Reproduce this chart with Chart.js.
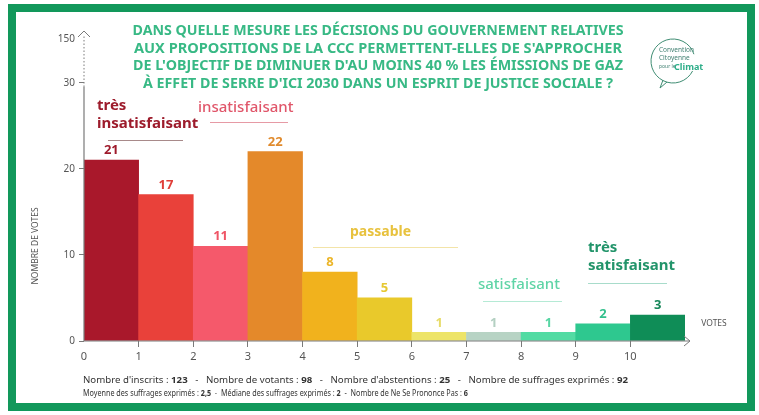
<!DOCTYPE html>
<html>
<head>
<meta charset="utf-8">
<script src="https://cdn.jsdelivr.net/npm/chart.js@4"></script>
<style>
  html, body { margin: 0; padding: 0; background: #fff; }
  #wrap { width: 759px; height: 415px; position: relative; }
</style>
</head>
<body>
<div id="wrap"><canvas id="chart" width="759" height="415"></canvas></div>
<script>
// Scores 0..10, number of votes for each
const scores = [0, 1, 2, 3, 4, 5, 6, 7, 8, 9, 10];
const votes = [21, 17, 11, 22, 8, 5, 1, 1, 1, 2, 3];
const barColors = ['#a9182b', '#e9413a', '#f5596b', '#e4892a', '#f1b21d', '#e9c92b',
                   '#ede468', '#b7d3c4', '#52dba3', '#2ec88f', '#0f8d57'];
const valueColors = ['#9f1b2c', '#e0403a', '#ef5566', '#e08a2c', '#ecb62a', '#e6c832',
                     '#e7dc6a', '#b4d0c2', '#58d6a4', '#33c08d', '#17875a'];
const xTickLabels = ['0', '1', '2', '3', '4', '5', '6', '7', '8', '9', '10'];
const yTickValues = [0, 10, 20, 30, 35];
const yTickLabels = ['0', '10', '20', '30', '150'];

const titleLines = [
  'DANS QUELLE MESURE LES DÉCISIONS DU GOUVERNEMENT RELATIVES',
  "AUX PROPOSITIONS DE LA CCC PERMETTENT-ELLES DE S'APPROCHER",
  "DE L'OBJECTIF DE DIMINUER D'AU MOINS 40 % LES ÉMISSIONS DE GAZ",
  "À EFFET DE SERRE D'ICI 2030 DANS UN ESPRIT DE JUSTICE SOCIALE ?"
];
const footerLine1 = [
  ["Nombre d'inscrits : ", false], ['123', true],
  ['   -   Nombre de votants : ', false], ['98', true],
  ["   -   Nombre d'abstentions : ", false], ['25', true],
  ['   -   Nombre de suffrages exprimés : ', false], ['92', true]
];
const footerLine2 = [
  ['Moyenne des suffrages exprimés : ', false], ['2,5', true],
  ['  -  Médiane des suffrages exprimés : ', false], ['2', true],
  ['  -  Nombre de Ne Se Prononce Pas : ', false], ['6', true]
];

const FONT = '"Noto Sans", "Open Sans", sans-serif';
const GREEN = '#12985b';
const TITLE_GREEN = '#38b985';
const AXIS = '#7a7a7a';

// draw text squeezed/stretched to a given width
function fitText(ctx, text, x, y, width, align) {
  const w = ctx.measureText(text).width;
  const sx = width / w;
  ctx.save();
  let left = x;
  if (align === 'center') left = x - width / 2;
  ctx.translate(left, y);
  ctx.scale(sx, 1);
  ctx.textAlign = 'left';
  ctx.fillText(text, 0, 0);
  ctx.restore();
}

function drawRuns(ctx, runs, x, y, width, size) {
  let total = 0;
  runs.forEach(r => {
    ctx.font = (r[1] ? 'bold ' : '') + size + 'px ' + FONT;
    total += ctx.measureText(r[0]).width;
  });
  const sx = width / total;
  ctx.save();
  ctx.translate(x, y);
  ctx.scale(sx, 1);
  let cx = 0;
  runs.forEach(r => {
    ctx.font = (r[1] ? 'bold ' : '') + size + 'px ' + FONT;
    ctx.fillText(r[0], cx, 0);
    cx += ctx.measureText(r[0]).width;
  });
  ctx.restore();
}

const decorPlugin = {
  id: 'decor',
  beforeDraw(chart) {
    const ctx = chart.ctx;
    ctx.save();
    ctx.fillStyle = '#fff';
    ctx.fillRect(0, 0, chart.width, chart.height);
    // green frame
    ctx.strokeStyle = GREEN;
    ctx.lineWidth = 8;
    ctx.strokeRect(12, 8, 739, 399);
    ctx.restore();
  },
  afterDatasetsDraw(chart) {
    const ctx = chart.ctx;
    const xs = chart.scales.x, ys = chart.scales.y;
    const x0 = xs.getPixelForValue(0), y0 = ys.getPixelForValue(0);
    ctx.save();

    // axes
    ctx.strokeStyle = AXIS;
    ctx.lineWidth = 1.2;
    ctx.beginPath();
    ctx.moveTo(x0, y0);
    ctx.lineTo(xs.getPixelForValue(11) + 5, y0);
    ctx.moveTo(x0, y0);
    ctx.lineTo(x0, ys.getPixelForValue(29.5));
    ctx.stroke();
    ctx.setLineDash([1.5, 2]);
    ctx.lineWidth = 1;
    ctx.beginPath();
    ctx.moveTo(x0, ys.getPixelForValue(29.5));
    ctx.lineTo(x0, ys.getPixelForValue(35.6));
    ctx.stroke();
    ctx.setLineDash([]);
    // arrows
    const ax = xs.getPixelForValue(11) + 5;
    ctx.beginPath();
    ctx.moveTo(ax - 6, y0 - 5); ctx.lineTo(ax, y0); ctx.lineTo(ax - 6, y0 + 5);
    const ay = ys.getPixelForValue(36);
    ctx.moveTo(x0 - 6, ay + 6); ctx.lineTo(x0, ay); ctx.lineTo(x0 + 6, ay + 6);
    ctx.stroke();

    // value labels on top of bars
    const meta = chart.getDatasetMeta(0);
    ctx.font = 'bold 13px ' + FONT;
    ctx.textAlign = 'center';
    ctx.textBaseline = 'bottom';
    meta.data.forEach((bar, i) => {
      ctx.fillStyle = valueColors[i];
      ctx.fillText(String(votes[i]), bar.x, bar.y - 3);
    });

    // appreciation groups
    ctx.textAlign = 'left';
    ctx.textBaseline = 'middle';
    ctx.font = 'bold 15px ' + FONT;
    ctx.fillStyle = '#9d1c2c';
    ctx.fillText('très', 97, 106);
    ctx.fillText('insatisfaisant', 97, 124);
    ctx.font = '500 15px ' + FONT;
    ctx.fillStyle = '#e0566a';
    ctx.fillText('insatisfaisant', 198, 108);
    ctx.font = 'bold 14px ' + FONT;
    ctx.fillStyle = '#e8c23e';
    ctx.fillText('passable', 350, 232);
    ctx.font = '500 15px ' + FONT;
    ctx.fillStyle = '#5fd4a6';
    ctx.fillText('satisfaisant', 478, 285);
    ctx.font = 'bold 15px ' + FONT;
    ctx.fillStyle = '#22946a';
    ctx.fillText('très', 588, 248);
    ctx.fillText('satisfaisant', 588, 266);

    ctx.lineWidth = 1;
    const rule = (xa, xb, y, c) => {
      ctx.strokeStyle = c;
      ctx.beginPath(); ctx.moveTo(xa, y); ctx.lineTo(xb, y); ctx.stroke();
    };
    rule(108, 183, 140.5, '#a88a8a');
    rule(210, 288, 122.5, '#e69aa5');
    rule(313, 458, 247.5, '#f3e4a8');
    rule(483, 562, 301.5, '#b5ead5');
    rule(588, 667, 283.5, '#a8dccb');

    // title
    ctx.fillStyle = TITLE_GREEN;
    ctx.font = 'bold 14px ' + FONT;
    ctx.textBaseline = 'middle';
    const tw = [491, 488, 490, 470];
    const ty = [31, 49, 66, 84];
    titleLines.forEach((t, i) => fitText(ctx, t, 378, ty[i], tw[i], 'center'));

    // logo
    ctx.strokeStyle = '#3f8d73';
    ctx.lineWidth = 1;
    ctx.beginPath();
    ctx.arc(673, 61, 22, 0.15 * Math.PI, 1.9 * Math.PI);
    ctx.stroke();
    ctx.beginPath();
    ctx.moveTo(667, 82); ctx.lineTo(660, 88); ctx.lineTo(663, 80);
    ctx.stroke();
    ctx.fillStyle = '#3f7f70';
    ctx.font = '6.5px ' + FONT;
    ctx.textAlign = 'left';
    ctx.fillText('Convention', 659, 50);
    ctx.fillText('Citoyenne', 659, 58);
    ctx.font = '5px ' + FONT;
    ctx.fillText('pour le', 659, 67);
    ctx.fillStyle = '#2fae8a';
    ctx.font = 'bold 9px ' + FONT;
    ctx.fillText('Climat', 674, 67);

    // axis titles
    ctx.fillStyle = '#555';
    ctx.font = '8.5px ' + FONT;
    ctx.textAlign = 'center';
    ctx.save();
    ctx.translate(36, 246);
    ctx.rotate(-Math.PI / 2);
    ctx.fillText('NOMBRE DE VOTES', 0, 0);
    ctx.restore();
    ctx.fillText('VOTES', 714, 324);

    // footer
    ctx.fillStyle = '#333';
    ctx.textAlign = 'left';
    drawRuns(ctx, footerLine1, 83, 381, 545, 8.5);
    drawRuns(ctx, footerLine2, 83, 394, 385, 8.5);

    ctx.restore();
  }
};

new Chart(document.getElementById('chart'), {
  type: 'bar',
  data: {
    datasets: [{
      data: scores.map((s, i) => ({ x: s + 0.5, y: votes[i] })),
      backgroundColor: barColors,
      borderWidth: 0,
      barPercentage: 1,
      categoryPercentage: 1
    }]
  },
  options: {
    responsive: false,
    animation: false,
    layout: { padding: { left: 0, right: 74, top: 31, bottom: 0 } },
    plugins: { legend: { display: false }, tooltip: { enabled: false } },
    scales: {
      x: {
        type: 'linear',
        offset: false,
        min: 0,
        max: 11,
        afterFit: s => { s.height = 74; },
        afterBuildTicks: s => { s.ticks = xTickLabels.map((_, i) => ({ value: i })); },
        ticks: {
          callback: (v, i) => xTickLabels[i],
          color: '#555',
          font: { family: FONT, size: 11 },
          padding: 3,
          maxRotation: 0
        },
        grid: {
          offset: false,
          drawOnChartArea: false,
          tickLength: 6,
          color: c => (c.tick && c.tick.value > 0) ? AXIS : 'rgba(0,0,0,0)'
        },
        border: { display: false }
      },
      y: {
        min: 0,
        max: 36,
        afterFit: s => { s.width = 84; },
        afterBuildTicks: s => { s.ticks = yTickValues.map(v => ({ value: v })); },
        ticks: {
          callback: (v, i) => yTickLabels[i],
          color: '#555',
          font: { family: FONT, size: 10 },
          padding: 4
        },
        grid: {
          drawOnChartArea: false,
          tickLength: 5,
          color: c => (c.tick && c.tick.value <= 30) ? AXIS : 'rgba(0,0,0,0)'
        },
        border: { display: false }
      }
    }
  },
  plugins: [decorPlugin]
});
</script>
</body>
</html>
